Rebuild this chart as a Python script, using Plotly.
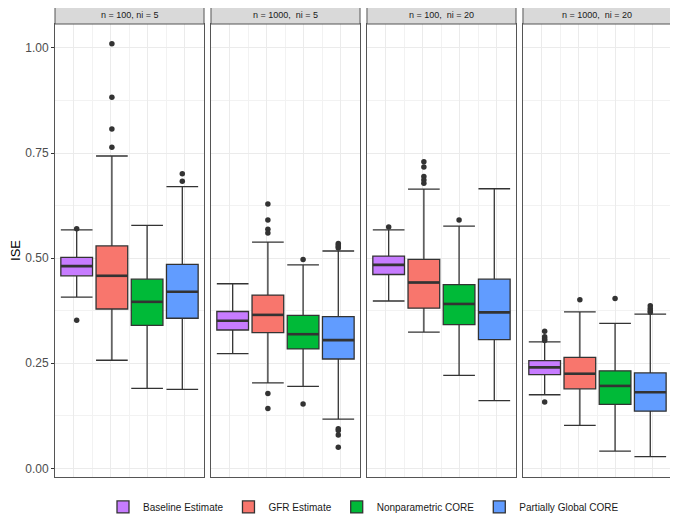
import plotly.graph_objects as go
from plotly.subplots import make_subplots

panels = ["n = 100, ni = 5", "n = 1000,  ni = 5", "n = 100,  ni = 20", "n = 1000,  ni = 20"]
methods = ["Baseline Estimate", "GFR Estimate", "Nonparametric CORE", "Partially Global CORE"]
colors = ["#C77CFF", "#F8766D", "#00BA38", "#619CFF"]

# per panel, per method: [lower whisker, q1, median, q3, upper whisker]
stats = [
    [[0.407, 0.458, 0.481, 0.502, 0.567],
     [0.257, 0.379, 0.458, 0.529, 0.743],
     [0.190, 0.340, 0.396, 0.450, 0.578],
     [0.188, 0.357, 0.420, 0.485, 0.670]],
    [[0.273, 0.329, 0.351, 0.373, 0.439],
     [0.203, 0.323, 0.365, 0.412, 0.538],
     [0.195, 0.284, 0.319, 0.364, 0.484],
     [0.117, 0.260, 0.305, 0.361, 0.517]],
    [[0.398, 0.461, 0.484, 0.505, 0.567],
     [0.324, 0.381, 0.442, 0.497, 0.664],
     [0.221, 0.342, 0.391, 0.437, 0.576],
     [0.161, 0.306, 0.371, 0.450, 0.665]],
    [[0.175, 0.223, 0.240, 0.256, 0.301],
     [0.102, 0.189, 0.225, 0.264, 0.372],
     [0.041, 0.152, 0.196, 0.232, 0.345],
     [0.028, 0.136, 0.181, 0.227, 0.367]],
]

outliers = [
    [[0.570, 0.352],
     [1.010, 0.883, 0.807, 0.764],
     [],
     [0.701, 0.683]],
    [[],
     [0.629, 0.591, 0.569, 0.560, 0.178, 0.142],
     [0.497, 0.153],
     [0.535, 0.531, 0.527, 0.524, 0.094, 0.090, 0.079, 0.050]],
    [[0.574],
     [0.729, 0.717, 0.694, 0.686, 0.678],
     [0.591],
     []],
    [[0.326, 0.313, 0.308, 0.304, 0.158],
     [0.401],
     [0.404],
     [0.387, 0.380, 0.375, 0.371]],
]

BOX_W = 0.9
fig = make_subplots(rows=1, cols=4, shared_yaxes=True, horizontal_spacing=7 / 620)

for p in range(4):
    for m in range(4):
        lo, q1, med, q3, hi = stats[p][m]
        xm = m + 1
        fig.add_trace(go.Box(
            x=[xm], q1=[q1], median=[med], q3=[q3], lowerfence=[lo], upperfence=[hi],
            name=methods[m], legendgroup=methods[m], showlegend=(p == 0),
            fillcolor=colors[m], line=dict(color="#333333", width=1.3),
            width=BOX_W, whiskerwidth=1, boxpoints=False, hoverinfo="skip",
        ), row=1, col=p + 1)
        fig.add_trace(go.Scatter(
            x=[xm - BOX_W / 2, xm + BOX_W / 2], y=[med, med], mode="lines",
            line=dict(color="#333333", width=2.6), showlegend=False, hoverinfo="skip",
        ), row=1, col=p + 1)
        if outliers[p][m]:
            fig.add_trace(go.Scatter(
                x=[xm] * len(outliers[p][m]), y=outliers[p][m], mode="markers",
                marker=dict(color="#333333", size=5.5), showlegend=False, hoverinfo="skip",
            ), row=1, col=p + 1)

strip_h = 19 / 453
for p in range(4):
    axn = "" if p == 0 else str(p + 1)
    fig.add_shape(type="rect", xref=f"x{axn} domain", yref=f"y{axn} domain",
                  x0=0, x1=1, y0=1, y1=1 + strip_h,
                  fillcolor="#D9D9D9", line=dict(color="#555555", width=1), layer="above")
    fig.add_annotation(xref=f"x{axn} domain", yref=f"y{axn} domain",
                       x=0.5, y=1 + strip_h / 2, text=panels[p], showarrow=False,
                       xanchor="center", yanchor="middle",
                       font=dict(size=9, color="#1A1A1A"))

fig.update_xaxes(range=[0.384, 4.617], tickmode="linear", tick0=0.915, dtick=1.05,
                 showticklabels=False, ticks="", showgrid=True, gridcolor="#EBEBEB",
                 gridwidth=1, minor=dict(dtick=0.525, tick0=0.915, showgrid=True,
                                         gridcolor="#F2F2F2", gridwidth=0.6),
                 showline=True, mirror=True, linecolor="#555555", linewidth=1, zeroline=False)
fig.update_yaxes(range=[-0.0207, 1.057], tickmode="array",
                 tickvals=[0, 0.25, 0.5, 0.75, 1.0],
                 ticktext=["0.00", "0.25", "0.50", "0.75", "1.00"],
                 showgrid=True, gridcolor="#EBEBEB", gridwidth=1,
                 minor=dict(tickvals=[0.125, 0.375, 0.625, 0.875], showgrid=True,
                            gridcolor="#F2F2F2", gridwidth=0.6),
                 showline=True, mirror=True, linecolor="#555555", linewidth=1, zeroline=False)
fig.update_yaxes(ticks="outside", ticklen=3, tickcolor="#333333",
                 tickfont=dict(size=12, color="#4D4D4D"),
                 title=dict(text="ISE", font=dict(size=13, color="#000000"), standoff=3),
                 row=1, col=1)

fig.update_layout(
    width=670, height=521,
    margin=dict(l=45, r=5, t=16, b=52),
    paper_bgcolor="white", plot_bgcolor="white",
    font=dict(family="Liberation Sans, Arial, sans-serif"),
    legend=dict(orientation="h", x=0.5, xanchor="center", y=-0.066, yanchor="middle",
                font=dict(size=10, color="#1A1A1A"), itemwidth=30, traceorder="normal"),
    boxmode="overlay",
)

fig.write_html("out.html")
